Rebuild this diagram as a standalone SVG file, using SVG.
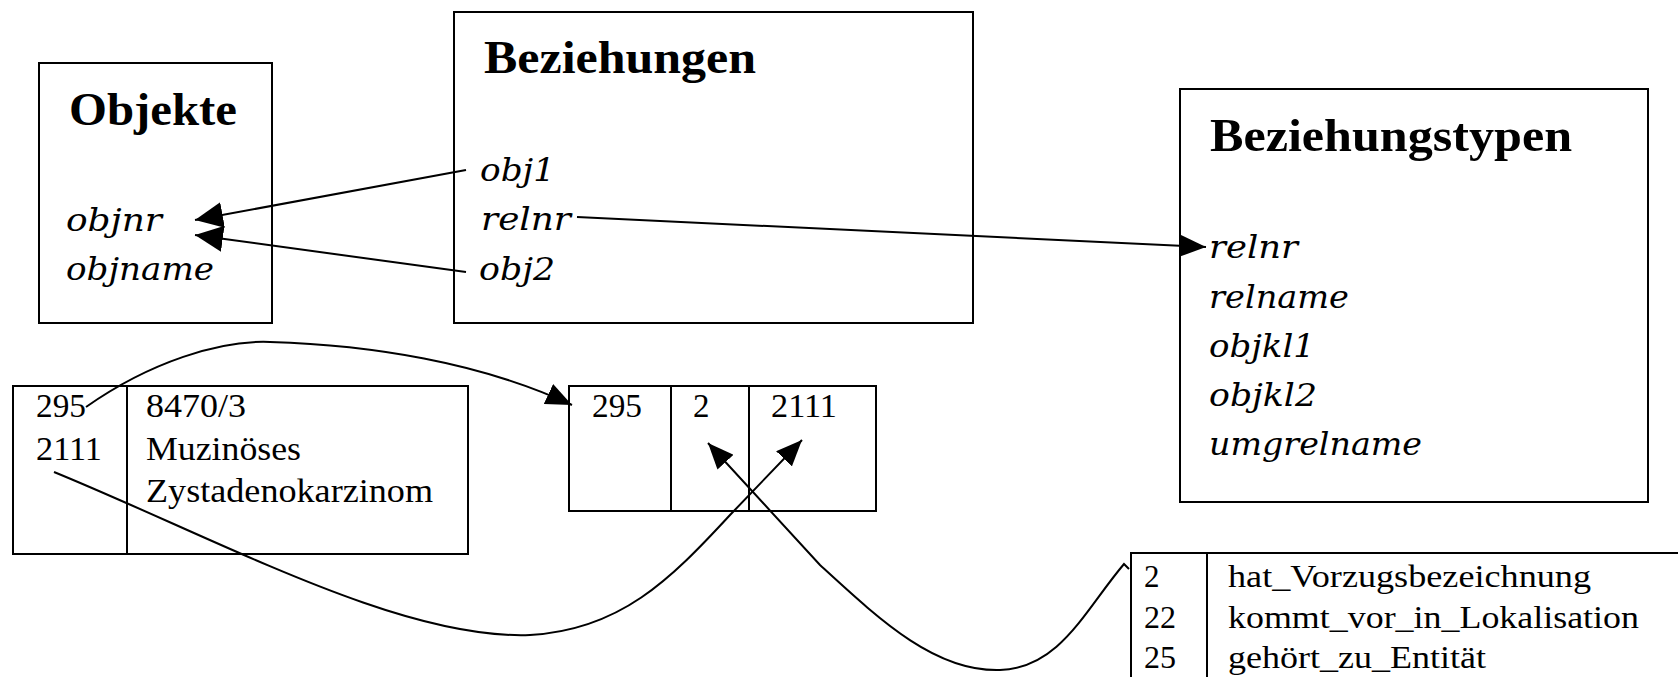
<svg xmlns="http://www.w3.org/2000/svg" width="1678" height="677" viewBox="0 0 1678 677">
<style>
.box{fill:#fff;stroke:#000;stroke-width:2}
.ln{fill:none;stroke:#000;stroke-width:2}
.t{font-family:"Liberation Serif","Times New Roman",serif;font-weight:bold;font-size:46px;fill:#000}
.a{font-family:"DejaVu Serif","Liberation Serif",serif;font-style:italic;font-size:31px;fill:#000}
.v{font-family:"Liberation Serif","Times New Roman",serif;font-size:33px;fill:#000}
.w{font-family:"Liberation Serif","Times New Roman",serif;font-size:31px;fill:#000}
</style>
<defs>
<marker id="ah" viewBox="0 0 26 22" refX="26" refY="11" markerWidth="26" markerHeight="22" markerUnits="userSpaceOnUse" orient="auto">
<path d="M0,0 L26,11 L0,22 z" fill="#000"/>
</marker>
<marker id="ahb" viewBox="0 0 28 26" refX="28" refY="13" markerWidth="28" markerHeight="26" markerUnits="userSpaceOnUse" orient="auto">
<path d="M0,0 L28,13 L0,26 z" fill="#000"/>
</marker>
</defs>
<rect width="1678" height="677" fill="#fff"/>
<g id="objekte">
<rect class="box" x="39" y="63" width="233" height="260"/>
<text class="t" x="69" y="125" textLength="168" lengthAdjust="spacingAndGlyphs">Objekte</text>
<text class="a" x="66" y="231" textLength="96" lengthAdjust="spacingAndGlyphs">objnr</text>
<text class="a" x="66" y="280" textLength="148" lengthAdjust="spacingAndGlyphs">objname</text>
</g>
<g id="beziehungen">
<rect class="box" x="454" y="12" width="519" height="311"/>
<text class="t" x="484" y="73" textLength="272" lengthAdjust="spacingAndGlyphs">Beziehungen</text>
<text class="a" x="480" y="181" textLength="75" lengthAdjust="spacingAndGlyphs">obj1</text>
<text class="a" x="481" y="230" textLength="90" lengthAdjust="spacingAndGlyphs">relnr</text>
<text class="a" x="479" y="280" textLength="76" lengthAdjust="spacingAndGlyphs">obj2</text>
</g>
<g id="beziehungstypen">
<rect class="box" x="1180" y="89" width="468" height="413"/>
<text class="t" x="1210" y="151" textLength="362" lengthAdjust="spacingAndGlyphs">Beziehungstypen</text>
<text class="a" x="1209" y="258" textLength="89" lengthAdjust="spacingAndGlyphs">relnr</text>
<text class="a" x="1209" y="308" textLength="140" lengthAdjust="spacingAndGlyphs">relname</text>
<text class="a" x="1209" y="357" textLength="106" lengthAdjust="spacingAndGlyphs">objkl1</text>
<text class="a" x="1209" y="406" textLength="108" lengthAdjust="spacingAndGlyphs">objkl2</text>
<text class="a" x="1209" y="455" textLength="213" lengthAdjust="spacingAndGlyphs">umgrelname</text>
</g>
<g id="objekt-tabelle">
<rect class="box" x="13" y="386" width="455" height="168"/>
<line class="ln" x1="127" y1="386" x2="127" y2="554"/>
<text class="v" x="36" y="417" textLength="50" lengthAdjust="spacingAndGlyphs">295</text>
<text class="v" x="36" y="460" textLength="66" lengthAdjust="spacingAndGlyphs">2111</text>
<text class="v" x="146" y="417" textLength="100" lengthAdjust="spacingAndGlyphs">8470/3</text>
<text class="v" x="146" y="460" textLength="155" lengthAdjust="spacingAndGlyphs">Muzinöses</text>
<text class="v" x="146" y="502" textLength="287" lengthAdjust="spacingAndGlyphs">Zystadenokarzinom</text>
</g>
<g id="beziehung-tabelle">
<rect class="box" x="569" y="386" width="307" height="125"/>
<line class="ln" x1="671" y1="386" x2="671" y2="511"/>
<line class="ln" x1="749" y1="386" x2="749" y2="511"/>
<text class="v" x="592" y="417" textLength="50" lengthAdjust="spacingAndGlyphs">295</text>
<text class="v" x="693" y="417">2</text>
<text class="v" x="771" y="417" textLength="66" lengthAdjust="spacingAndGlyphs">2111</text>
</g>
<g id="beziehungstyp-tabelle">
<rect class="box" x="1131" y="553" width="570" height="160"/>
<line class="ln" x1="1207" y1="553" x2="1207" y2="677"/>
<text class="w" x="1144" y="587">2</text>
<text class="w" x="1144" y="628" textLength="32" lengthAdjust="spacingAndGlyphs">22</text>
<text class="w" x="1144" y="668" textLength="32" lengthAdjust="spacingAndGlyphs">25</text>
<text class="w" x="1228" y="587" textLength="363" lengthAdjust="spacingAndGlyphs">hat_Vorzugsbezeichnung</text>
<text class="w" x="1228" y="628" textLength="411" lengthAdjust="spacingAndGlyphs">kommt_vor_in_Lokalisation</text>
<text class="w" x="1228" y="668" textLength="258" lengthAdjust="spacingAndGlyphs">gehört_zu_Entität</text>
</g>
<g id="connectors">
<line class="ln" x1="466" y1="170" x2="195" y2="220" marker-end="url(#ahb)"/>
<line class="ln" x1="466" y1="272" x2="195" y2="235" marker-end="url(#ahb)"/>
<line class="ln" x1="577" y1="217" x2="1206" y2="247" marker-end="url(#ah)"/>
<path class="ln" d="M86,407 C150,362 220,340 270,342 C370,345 480,362 572,405" marker-end="url(#ah)"/>
<path class="ln" d="M54,472 C220,540 400,640 530,635 C620,630 670,580 730,515 L802,440" marker-end="url(#ah)"/>
<path class="ln" d="M1129,569 L1124,564 C1085,610 1060,668 1000,670 C935,672 880,620 820,565 L708,443" marker-end="url(#ah)"/>
</g>
</svg>
